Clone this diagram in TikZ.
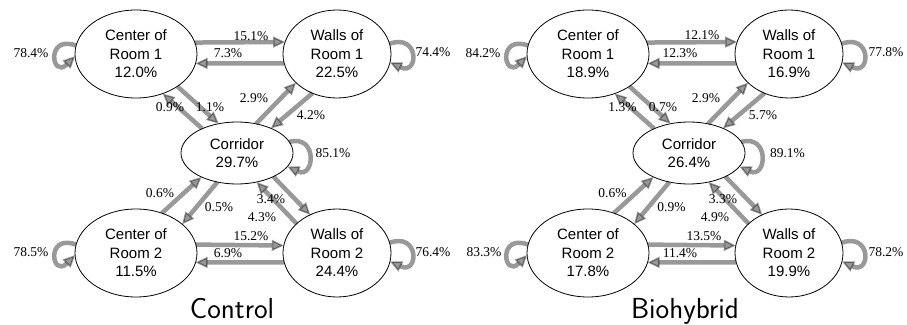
\documentclass[tikz,border=0pt]{standalone}
\usepackage{fontspec}
\setmainfont{Liberation Serif}
\newfontfamily\nodefont{Liberation Sans}
\usetikzlibrary{shapes.geometric, arrows.meta, positioning}

\begin{document}
\begin{tikzpicture}[x=1pt, y=1pt]
    \tikzset{
        room/.style = {ellipse, draw=black, line width=0.8pt, inner sep=0pt, outer sep=0pt, minimum width=122pt, minimum height=88pt, align=center, font=\nodefont\fontsize{15}{18.5}\selectfont},
        walls/.style = {room, minimum width=108pt},
        hall/.style = {room, minimum width=112pt, minimum height=62pt},
        line/.style = {draw=black, line width=4.5pt, opacity=0.4, -{Triangle[length=12pt, width=11pt, line width=1.6pt]}},
        pct/.style = {inner sep=0pt, font=\fontsize{13.5}{15}\selectfont},
        title/.style = {anchor=base, inner sep=0pt, font=\sffamily\fontsize{29}{32}\selectfont},
    }
    \useasboundingbox (0,0) rectangle (907,324);

    % control
    \node[room](cr1) at (136,270) {Center of\\Room 1\\12.0\%};
    \node[walls](wr1) at (337,270) {Walls of\\Room 1\\22.5\%};
    \node[hall](cor) at (237,171) {Corridor\\29.7\%};
    \node[room](cr2) at (136,71) {Center of\\Room 2\\11.5\%};
    \node[walls](wr2) at (337,71) {Walls of\\Room 2\\24.4\%};

    \path [line] (cr1.172) to[out=160, in=225, distance=33pt] (cr1.182);
    \path [line] (wr1.11) to[out=20, in=-25, distance=32pt] (wr1.-9);
    \path [line] (cor.12) to[out=15, in=-25, distance=30pt] (cor.-15);
    \path [line] (cr2.172) to[out=160, in=225, distance=33pt] (cr2.182);
    \path [line] (wr2.11) to[out=20, in=-25, distance=32pt] (wr2.-9);

    \path [line] (cr1.11) -- (wr1.167.5);
    \path [line] (wr1.-170) -- (cr1.-9);
    \path [line] (cr1.-38) -- (cor.122);
    \path [line] (cor.145) -- (cr1.-56);
    \path [line] (cor.57) -- (wr1.215);
    \path [line] (wr1.238) -- (cor.36);
    \path [line] (cr2.57) -- (cor.214);
    \path [line] (cor.236) -- (cr2.32);
    \path [line] (cor.-33) -- (wr2.125);
    \path [line] (wr2.144) -- (cor.-56);
    \path [line] (cr2.8) -- (wr2.172);
    \path [line] (wr2.-170) -- (cr2.-9);

    \node[pct](c1) at (31,271) {78.4\%};
    \node[pct](c2) at (433,272) {74.4\%};
    \node[pct](c3) at (251,288) {15.1\%};
    \node[pct](c4) at (228,271) {7.3\%};
    \node[pct](c5) at (170,217) {0.9\%};
    \node[pct](c6) at (210,217) {1.1\%};
    \node[pct](c7) at (254,226) {2.9\%};
    \node[pct](c8) at (311,209) {4.2\%};
    \node[pct](c9) at (333,171) {85.1\%};
    \node[pct](c10) at (160,131) {0.6\%};
    \node[pct](c11) at (219,117) {0.5\%};
    \node[pct](c12) at (271,125) {3.4\%};
    \node[pct](c13) at (262,107) {4.3\%};
    \node[pct](c14) at (251,88) {15.2\%};
    \node[pct](c15) at (228,71) {6.9\%};
    \node[pct](c16) at (31,72) {78.5\%};
    \node[pct](c17) at (433,72) {76.4\%};
    \node[title](ctitle) at (232,6) {Control};

    % biohybrid
    \begin{scope}[xshift=452pt]
    \node[room](bcr1) at (136,270) {Center of\\Room 1\\18.9\%};
    \node[walls](bwr1) at (337,270) {Walls of\\Room 1\\16.9\%};
    \node[hall](bcor) at (237,171) {Corridor\\26.4\%};
    \node[room](bcr2) at (136,71) {Center of\\Room 2\\17.8\%};
    \node[walls](bwr2) at (337,71) {Walls of\\Room 2\\19.9\%};

    \path [line] (bcr1.172) to[out=160, in=225, distance=33pt] (bcr1.182);
    \path [line] (bwr1.11) to[out=20, in=-25, distance=32pt] (bwr1.-9);
    \path [line] (bcor.12) to[out=15, in=-25, distance=30pt] (bcor.-15);
    \path [line] (bcr2.172) to[out=160, in=225, distance=33pt] (bcr2.182);
    \path [line] (bwr2.11) to[out=20, in=-25, distance=32pt] (bwr2.-9);

    \path [line] (bcr1.11) -- (bwr1.167.5);
    \path [line] (bwr1.-170) -- (bcr1.-9);
    \path [line] (bcr1.-38) -- (bcor.122);
    \path [line] (bcor.145) -- (bcr1.-56);
    \path [line] (bcor.57) -- (bwr1.215);
    \path [line] (bwr1.238) -- (bcor.36);
    \path [line] (bcr2.57) -- (bcor.214);
    \path [line] (bcor.236) -- (bcr2.32);
    \path [line] (bcor.-33) -- (bwr2.125);
    \path [line] (bwr2.144) -- (bcor.-56);
    \path [line] (bcr2.8) -- (bwr2.172);
    \path [line] (bwr2.-170) -- (bcr2.-9);

    \node[pct](b1) at (31,271) {84.2\%};
    \node[pct](b2) at (434,272) {77.8\%};
    \node[pct](b3) at (250,289) {12.1\%};
    \node[pct](b4) at (228,271) {12.3\%};
    \node[pct](b5) at (170.5,217) {1.3\%};
    \node[pct](b6) at (211,217) {0.7\%};
    \node[pct](b7) at (254,226) {2.9\%};
    \node[pct](b8) at (311,209) {5.7\%};
    \node[pct](b9) at (335.5,171) {89.1\%};
    \node[pct](b10) at (160.5,131) {0.6\%};
    \node[pct](b11) at (219.5,117) {0.9\%};
    \node[pct](b12) at (271,125) {3.3\%};
    \node[pct](b13) at (263,107) {4.9\%};
    \node[pct](b14) at (252,88) {13.5\%};
    \node[pct](b15) at (228,71) {11.4\%};
    \node[pct](b16) at (32,72) {83.3\%};
    \node[pct](b17) at (434,72) {78.2\%};
    \node[title](btitle) at (233,6) {Biohybrid};
    \end{scope}

\end{tikzpicture}
\end{document}
